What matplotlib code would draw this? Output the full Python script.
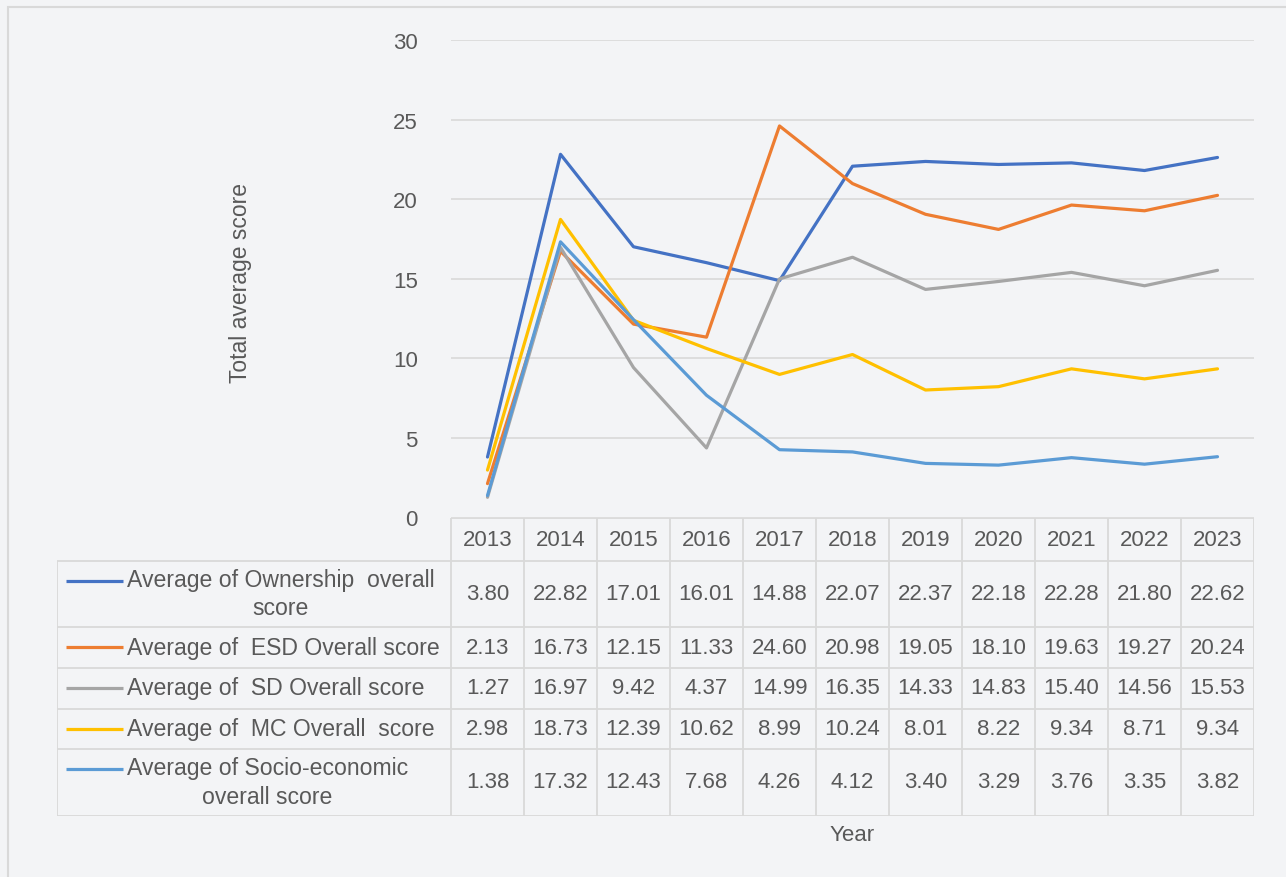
import numpy as np
import matplotlib
matplotlib.use('Agg')
import matplotlib.pyplot as plt
from matplotlib.patches import Rectangle

plt.rcParams['font.family'] = ['Liberation Sans', 'DejaVu Sans']

years = [2013, 2014, 2015, 2016, 2017, 2018, 2019, 2020, 2021, 2022, 2023]
ownership = [3.80, 22.82, 17.01, 16.01, 14.88, 22.07, 22.37, 22.18, 22.28, 21.80, 22.62]
esd = [2.13, 16.73, 12.15, 11.33, 24.60, 20.98, 19.05, 18.10, 19.63, 19.27, 20.24]
sd = [1.27, 16.97, 9.42, 4.37, 14.99, 16.35, 14.33, 14.83, 15.40, 14.56, 15.53]
mc = [2.98, 18.73, 12.39, 10.62, 8.99, 10.24, 8.01, 8.22, 9.34, 8.71, 9.34]
socio = [1.38, 17.32, 12.43, 7.68, 4.26, 4.12, 3.40, 3.29, 3.76, 3.35, 3.82]

labels = ['Average of Ownership  overall\nscore',
          'Average of  ESD Overall score',
          'Average of  SD Overall score',
          'Average of  MC Overall  score',
          'Average of Socio-economic\noverall score']
series = [ownership, esd, sd, mc, socio]
colors = ['#4472C4', '#ED7D31', '#A5A5A5', '#FFC000', '#5B9BD5']

W, H = 1286, 878
BG = '#f3f4f6'
TXT = '#595959'
GRID = '#d9d9d9'
FS = 16

fig = plt.figure(figsize=(W / 100, H / 100), dpi=100, facecolor=BG)

# frame around the chart area
fig.patches.append(Rectangle((8 / W, -0.05), 1.2, (H - 8) / H + 0.05,
                             transform=fig.transFigure, fill=False,
                             edgecolor=GRID, lw=1.5))

# plot area in pixel coordinates
px_l, px_r, px_t, px_b = 451, 1254, 41, 518.5
ax = fig.add_axes([px_l / W, 1 - px_b / H, (px_r - px_l) / W, (px_b - px_t) / H])
ax.set_facecolor('none')
x = np.arange(len(years))
for vals, c in zip(series, colors):
    ax.plot(x, vals, color=c, lw=2.3, solid_capstyle='round', zorder=3)
ax.set_xlim(-0.5, len(years) - 0.5)
ax.set_ylim(0, 30)
ax.set_yticks(range(0, 31, 5))
ax.yaxis.grid(True, color=GRID, lw=1.2)
ax.set_axisbelow(True)
ax.tick_params(axis='y', length=0, pad=24, labelsize=FS, labelcolor=TXT)
ax.set_xticks([])
for s in ax.spines.values():
    s.set_visible(False)

fig.text(241 / W, 1 - 283 / H, 'Total average score', rotation=90,
         ha='center', va='center', fontsize=FS + 0.5, color=TXT)

# data table below the plot area
col_w = (px_r - px_l) / len(years)
leg_l = 57
row_h = [43, 66, 41, 41, 40, 67]
tb_bottom = px_b + sum(row_h)
tax = fig.add_axes([leg_l / W, 1 - tb_bottom / H, (px_r - leg_l) / W, sum(row_h) / H])
tax.set_xlim(-0.5 - (px_l - leg_l) / col_w, len(years) - 0.5)
tax.set_ylim(sum(row_h), 0)
tax.axis('off')
xl = tax.get_xlim()[0]
edges = np.concatenate([[0], np.cumsum(row_h)])
lkw = dict(color=GRID, lw=1.3, solid_capstyle='butt')

# horizontal rules
tax.plot([-0.5, len(years) - 0.5], [edges[0], edges[0]], **lkw)
for e in edges[1:]:
    tax.plot([xl, len(years) - 0.5], [e, e], **lkw)
# vertical rules
tax.plot([xl, xl], [edges[1], edges[-1]], **lkw)
for i in range(len(years) + 1):
    tax.plot([i - 0.5, i - 0.5], [edges[0], edges[-1]], **lkw)

for i, yr in enumerate(years):
    tax.text(i, (edges[0] + edges[1]) / 2, str(yr), ha='center', va='center',
             fontsize=FS, color=TXT)

px_per_unit = col_w
for r, (vals, c, lab) in enumerate(zip(series, colors, labels)):
    top, bot = edges[r + 1], edges[r + 2]
    mid = (top + bot) / 2
    for i, v in enumerate(vals):
        tax.text(i, mid, f'{v:.2f}', ha='center', va='center',
                 fontsize=FS, color=TXT)
    two = '\n' in lab
    ly = top + 20 if two else mid
    x0 = xl + (66 - leg_l) / px_per_unit
    x1 = xl + (123 - leg_l) / px_per_unit
    tax.plot([x0, x1], [ly, ly], color=c, lw=2.3, solid_capstyle='butt')
    tax.text(xl + (127 - leg_l) / px_per_unit, mid, lab, ha='left', va='center',
             multialignment='center', fontsize=FS + 0.6, color=TXT,
             linespacing=1.3)

fig.text(852 / W, 1 - 836 / H, 'Year', ha='center', va='center',
         fontsize=FS, color=TXT)

fig.savefig('out.png', dpi=100, facecolor=BG)
